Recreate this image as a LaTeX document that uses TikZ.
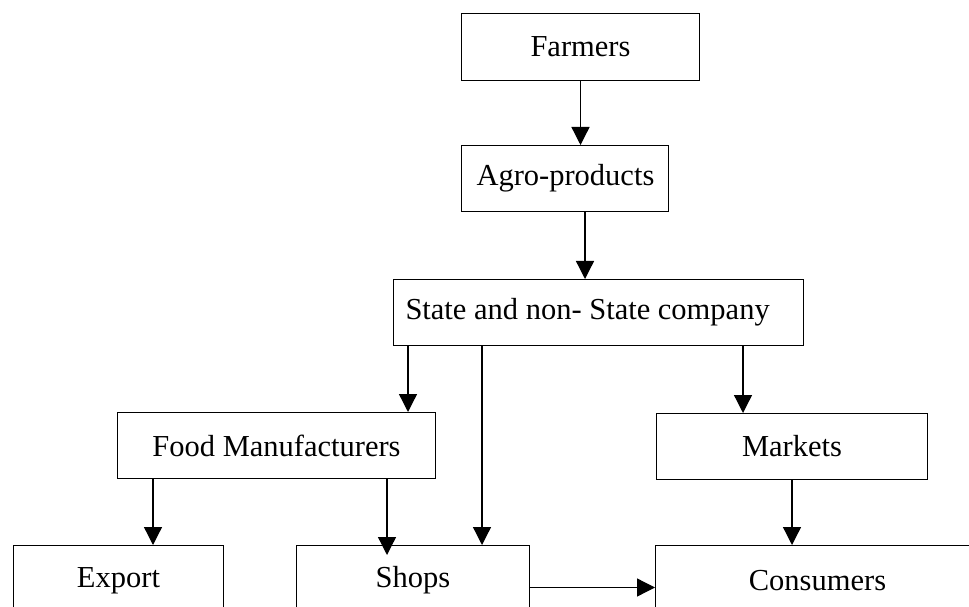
\documentclass[tikz,border=0pt]{standalone}
\usepackage{fontspec}
\setmainfont{Liberation Serif}
\usetikzlibrary{arrows.meta,calc}
\begin{document}
\begin{tikzpicture}[x=1bp,y=-1bp,
  box/.style={draw,line width=1bp,anchor=north west,inner sep=0pt,
    font=\fontsize{30.5bp}{36bp}\selectfont},
  arr/.style={line width=1.3bp,-{Triangle[width=18bp,length=18bp]}}]
\useasboundingbox (0,0) rectangle (969,607);
\clip (0,0) rectangle (969,607);
\fill[white] (0,0) rectangle (969,607);
\node[box,minimum width=238bp,minimum height=67bp] (farm) at (461,13) {Farmers};
\node[box,inner xsep=15bp,minimum height=66bp] (agro) at (461,145) {\makebox[177bp][l]{Agro-products}};
\node[box,inner xsep=12bp,minimum height=66bp] (state) at (393,279) {\makebox[386bp][l]{State and non- State company}};
\node[box,minimum width=318bp,minimum height=66bp] (food) at (117,412) {Food Manufacturers};
\node[box,minimum width=271bp,minimum height=66bp] (mark) at (656,413) {Markets};
\node[box,minimum width=210bp,minimum height=70bp] (exp) at (13,545) {Export};
\node[box,minimum width=233bp,minimum height=70bp] (shop) at (296,545) {Shops};
\node[box,minimum width=324bp,minimum height=70bp] (cons) at (655,545) {Consumers};
\draw[arr] (farm.south) -- (farm.south |- agro.north);
\draw[arr] ([xshift=124bp]agro.south west) -- ([xshift=124bp]agro.south west |- state.north);
\draw[arr] ([xshift=15bp]state.south west) -- ([xshift=15bp]state.south west |- food.north);
\draw[arr] ([xshift=89bp]state.south west) -- ([xshift=89bp]state.south west |- shop.north);
\draw[arr] ([xshift=350bp]state.south west) -- ([xshift=350bp]state.south west |- mark.north);
\draw[arr] ([xshift=36bp]food.south west) -- ([xshift=36bp]food.south west |- exp.north);
\draw[arr] ([xshift=270bp]food.south west) -- ([xshift=270bp,yshift=-10bp]food.south west |- shop.north);
\draw[arr] (mark.south) -- (mark.south |- cons.north);
\draw[arr] ([yshift=-7bp]shop.east) -- ([yshift=-7bp]shop.east -| cons.west);
\end{tikzpicture}
\end{document}
